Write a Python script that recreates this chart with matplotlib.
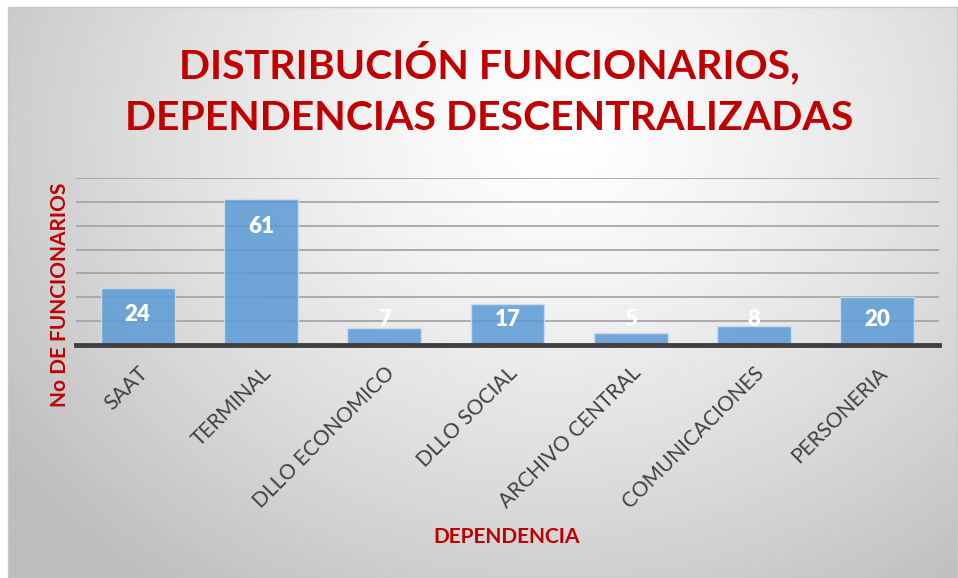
import numpy as np
import matplotlib
matplotlib.use('Agg')
import matplotlib.pyplot as plt

# data
categories = ['SAAT', 'TERMINAL', 'DLLO ECONOMICO', 'DLLO SOCIAL',
              'ARCHIVO CENTRAL', 'COMUNICACIONES', 'PERSONERIA']
funcionarios = [24, 61, 7, 17, 5, 8, 20]

title_text = 'DISTRIBUCIÓN FUNCIONARIOS,\nDEPENDENCIAS DESCENTRALIZADAS'
red = '#c00000'

plt.rcParams['font.family'] = ['Lato', 'DejaVu Sans']

fig = plt.figure(figsize=(9.58, 5.78), dpi=100)
fig.patch.set_facecolor('white')

# radial gray background of the chart area
bg = fig.add_axes([8 / 958, 0, 949 / 958, 571 / 578], zorder=0)
yy, xx = np.mgrid[0:1:300j, 0:1:500j]
r = np.sqrt(((xx - 0.58) / 0.72) ** 2 + ((yy - 0.22) / 1.0) ** 2)
shade = 1.0 - 0.26 * np.clip(r, 0, 1) ** 1.3
bg.imshow(shade, cmap='gray', vmin=0, vmax=1, aspect='auto',
          extent=[0, 1, 0, 1], origin='upper')
bg.set_xticks([])
bg.set_yticks([])
for s in bg.spines.values():
    s.set_color('#c8c8c8')
    s.set_linewidth(1)

ax = fig.add_axes([76 / 958, 1 - 345 / 578, 863 / 958, 167 / 578], zorder=1)
ax.patch.set_alpha(0)
x = np.arange(len(categories))
ax.bar(x, funcionarios, width=0.6, color='#5b9bd5', alpha=0.85,
       edgecolor='#cfe0f2', linewidth=1, zorder=3)
ax.set_xlim(-0.5, len(categories) - 0.5)
ax.set_ylim(0, 70)
ax.set_yticks(np.arange(10, 71, 10))
ax.yaxis.grid(True, color='#a6a6a6', linewidth=1.3, zorder=1)
ax.tick_params(axis='y', length=0, labelleft=False)
ax.tick_params(axis='x', length=0, pad=13)
for side in ['top', 'right', 'left']:
    ax.spines[side].set_visible(False)
ax.spines['bottom'].set_color('#404040')
ax.spines['bottom'].set_linewidth(3.5)
ax.spines['bottom'].set_zorder(4)

ax.set_xticks(x)
ax.set_xticklabels(categories, rotation=45, ha='right', va='top',
                   rotation_mode='anchor', fontsize=15, color='#404040')

# value labels sit near the top of the bar, but never below a fixed height
for xi, v in zip(x, funcionarios):
    ax.text(xi, max(v - 11.4, 10.6), str(v), ha='center', va='center',
            color='white', fontsize=16, fontweight='heavy', zorder=5)

fig.text(0.511, 1 - 89 / 578, title_text, ha='center', va='center',
         color=red, fontsize=29.5, fontweight='bold', linespacing=1.5)
fig.text(60 / 958, 1 - 295 / 578, 'No DE FUNCIONARIOS', rotation=90,
         ha='center', va='center', color=red, fontsize=15, fontweight='bold')
fig.text(507 / 958, 1 - 537 / 578, 'DEPENDENCIA', ha='center', va='center',
         color=red, fontsize=15, fontweight='bold')

fig.savefig('out.png', dpi=100)
